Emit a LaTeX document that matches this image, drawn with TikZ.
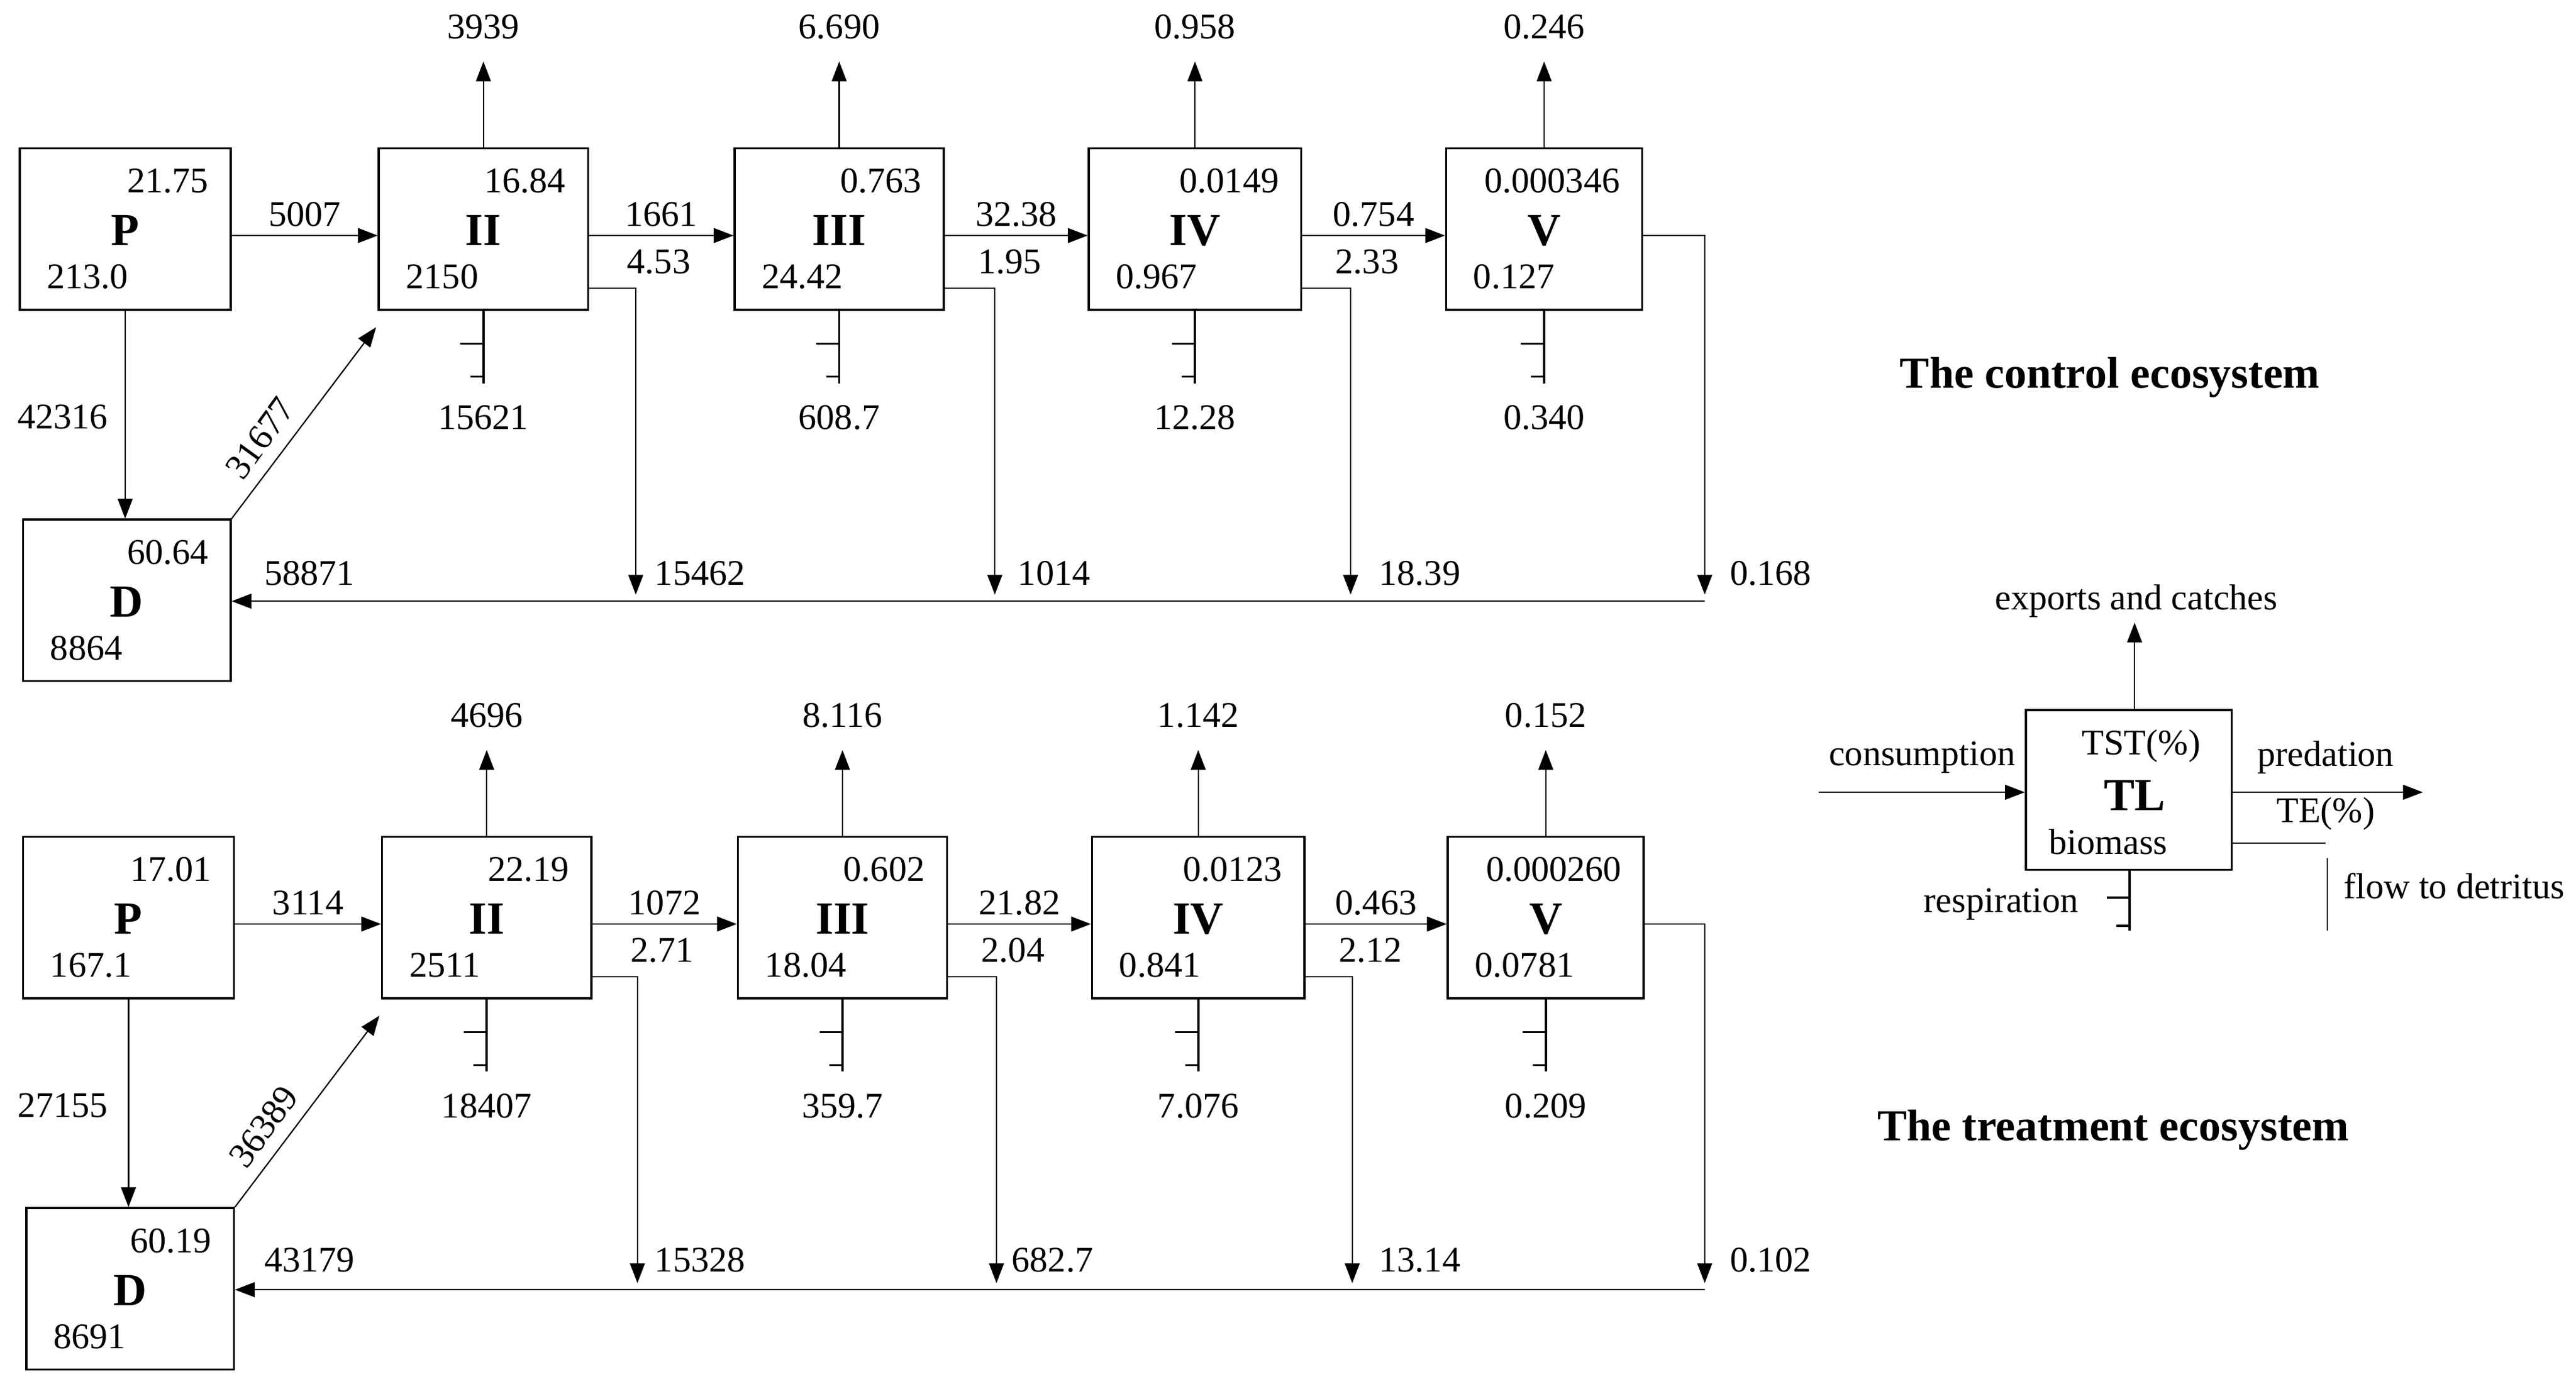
\documentclass[tikz,border=0pt]{standalone}
\usepackage{fontspec}
\setmainfont{Liberation Serif}
\usetikzlibrary{arrows.meta}
\begin{document}
\begin{tikzpicture}[x=1bp,y=-1bp,
  box/.style={draw,line width=1.3bp,minimum height=98bp,inner sep=0pt},
  fl/.style={line width=0.8bp,-{Triangle[length=12bp,width=9bp]}},
  ln/.style={line width=0.8bp},
  rs/.style={line width=1.4bp},
  num/.style={font=\fontsize{22}{24}\selectfont,inner sep=1bp},
  big/.style={font=\fontsize{28}{30}\selectfont\bfseries},
  ttl/.style={font=\fontsize{27}{29}\selectfont\bfseries}]
\useasboundingbox (0,0) rectangle (1564,843);
\newcommand\TLbox[7]{%
  \node[box,minimum width=#4bp] (#1) at (#2,#3) {};
  \node[big] at (#2,#3+1) {#5};
  \node[num,anchor=east] at ([xshift=-13bp,yshift=29bp]#1.east) {#6};
  \node[num,anchor=west] at ([xshift=16bp,yshift=-29bp]#1.west) {#7};}
\newcommand\Exp[3]{% name, export, resp
  \coordinate (#1x) at ([yshift=52bp]#1.north);
  \draw[fl] (#1.north) -- (#1x);
  \node[num] at ([yshift=21bp]#1x) {#2};
  \coordinate (#1r) at ([yshift=-44bp]#1.south);
  \draw[rs] (#1.south) -- (#1r);
  \draw[rs] ([yshift=-20bp]#1.south) -- ++(-14,0);
  \draw[rs] ([yshift=-40bp]#1.south) -- ++(-8,0);
  \node[num] at ([yshift=-21bp]#1r) {#3};}
% control
\TLbox{cP}{76}{139}{128}{P}{21.75}{213.0}
\TLbox{cII}{293.5}{139}{127}{II}{16.84}{2150}
\TLbox{cIII}{509.5}{139}{127}{III}{0.763}{24.42}
\TLbox{cIV}{725.5}{139}{129}{IV}{0.0149}{0.967}
\TLbox{cV}{937.5}{139}{119}{V}{0.000346}{0.127}
\TLbox{cD}{77}{364.5}{126}{D}{60.64}{8864}
\Exp{cII}{3939}{15621}\Exp{cIII}{6.690}{608.7}\Exp{cIV}{0.958}{12.28}\Exp{cV}{0.246}{0.340}
\draw[fl] ([yshift=-4bp]cP.east) -- node[num,above=4bp]{5007} ([yshift=-4bp]cII.west);
\draw[fl] ([yshift=-4bp]cII.east) -- node[num,above=4bp]{1661} ([yshift=-4bp]cIII.west);
\draw[fl] ([yshift=-4bp]cIII.east) -- node[num,above=4bp]{32.38} ([yshift=-4bp]cIV.west);
\draw[fl] ([yshift=-4bp]cIV.east) -- node[num,above=4bp]{0.754} ([yshift=-4bp]cV.west);
\node[num] at (400,159) {4.53};\node[num] at (613,159) {1.95};\node[num] at (830,159) {2.33};
\coordinate (cdII) at (386,361);\coordinate (cdIII) at (604,361);\coordinate (cdIV) at (820,361);\coordinate (cdV) at (1035,361);
\draw[fl] ([yshift=-36bp]cII.east) -| (cdII);
\draw[fl] ([yshift=-36bp]cIII.east) -| (cdIII);
\draw[fl] ([yshift=-36bp]cIV.east) -| (cdIV);
\draw[fl] ([yshift=-4bp]cV.east) -| (cdV);
\coordinate (cL) at (1035,365);
\draw[fl] (cL) -- (cD.east |- cL);
\node[num] at (425,348) {15462};\node[num] at (640,348) {1014};\node[num] at (862,348) {18.39};\node[num] at (1075,348) {0.168};
\node[num] at (188,348) {58871};
\draw[fl] (cP.south) -- (cD.north -| cP.south);
\node[num] at (38,253) {42316};
\draw[fl] (cD.north east) -- ([xshift=-1bp,yshift=-10bp]cII.south west);
\node[num,rotate=54] at (158,266) {31677};
\node[ttl] at (1281,229) {The control ecosystem};
% treatment
\TLbox{tP}{78}{557}{128}{P}{17.01}{167.1}
\TLbox{tII}{295.5}{557}{127}{II}{22.19}{2511}
\TLbox{tIII}{511.5}{557}{127}{III}{0.602}{18.04}
\TLbox{tIV}{727.5}{557}{129}{IV}{0.0123}{0.841}
\TLbox{tV}{938.5}{557}{119}{V}{0.000260}{0.0781}
\TLbox{tD}{79}{782.5}{126}{D}{60.19}{8691}
\Exp{tII}{4696}{18407}\Exp{tIII}{8.116}{359.7}\Exp{tIV}{1.142}{7.076}\Exp{tV}{0.152}{0.209}
\draw[fl] ([yshift=-4bp]tP.east) -- node[num,above=4bp]{3114} ([yshift=-4bp]tII.west);
\draw[fl] ([yshift=-4bp]tII.east) -- node[num,above=4bp]{1072} ([yshift=-4bp]tIII.west);
\draw[fl] ([yshift=-4bp]tIII.east) -- node[num,above=4bp]{21.82} ([yshift=-4bp]tIV.west);
\draw[fl] ([yshift=-4bp]tIV.east) -- node[num,above=4bp]{0.463} ([yshift=-4bp]tV.west);
\node[num] at (402,577) {2.71};\node[num] at (615,577) {2.04};\node[num] at (832,577) {2.12};
\coordinate (tdII) at (387,779);\coordinate (tdIII) at (605,779);\coordinate (tdIV) at (821,779);\coordinate (tdV) at (1035,779);
\draw[fl] ([yshift=-36bp]tII.east) -| (tdII);
\draw[fl] ([yshift=-36bp]tIII.east) -| (tdIII);
\draw[fl] ([yshift=-36bp]tIV.east) -| (tdIV);
\draw[fl] ([yshift=-4bp]tV.east) -| (tdV);
\coordinate (tL) at (1035,783);
\draw[fl] (tL) -- (tD.east |- tL);
\node[num] at (425,765) {15328};\node[num] at (639,765) {682.7};\node[num] at (862,765) {13.14};\node[num] at (1075,765) {0.102};
\node[num] at (188,765) {43179};
\draw[fl] (tP.south) -- (tD.north -| tP.south);
\node[num] at (38,671) {27155};
\draw[fl] (tD.north east) -- ([xshift=-1bp,yshift=-10bp]tII.south west);
\node[num,rotate=54] at (160,684) {36389};
\node[ttl] at (1283,686) {The treatment ecosystem};
% legend
\node[box,minimum width=125bp,minimum height=97bp] (L) at (1292.5,479.5) {};
\node[num] at (1300,453) {TST(\%)};
\node[big] at (1296,483) {TL};
\node[num] at (1280,511) {biomass};
\coordinate (Lx) at (1296,378);
\draw[fl] (L.north -| Lx) -- (Lx);
\node[num] at (1297,365) {exports and catches};
\coordinate (Lc) at (1104,481);
\draw[fl] (Lc) -- (L.west |- Lc);
\node[num] at (1167,460) {consumption};
\coordinate (Lp) at (1471,481);
\draw[fl] (L.east |- Lp) -- (Lp);
\node[num] at (1412,460) {predation};
\node[num] at (1412,494) {TE(\%)};
\coordinate (Le) at (1412,512);
\draw[ln] (L.east |- Le) -- (Le);
\coordinate (Lv1) at (1413,521);\coordinate (Lv2) at (1413,565);
\draw[ln] (Lv1) -- (Lv2);
\node[num] at (1490,538) {flow to detritus};
\coordinate (Lr) at (1293,565);
\draw[rs] (L.south -| Lr) -- (Lr);
\draw[rs] (1293,545) -- ++(-14,0);
\draw[rs] (1293,562) -- ++(-8,0);
\node[num] at (1215,549) {respiration};
\end{tikzpicture}
\end{document}
